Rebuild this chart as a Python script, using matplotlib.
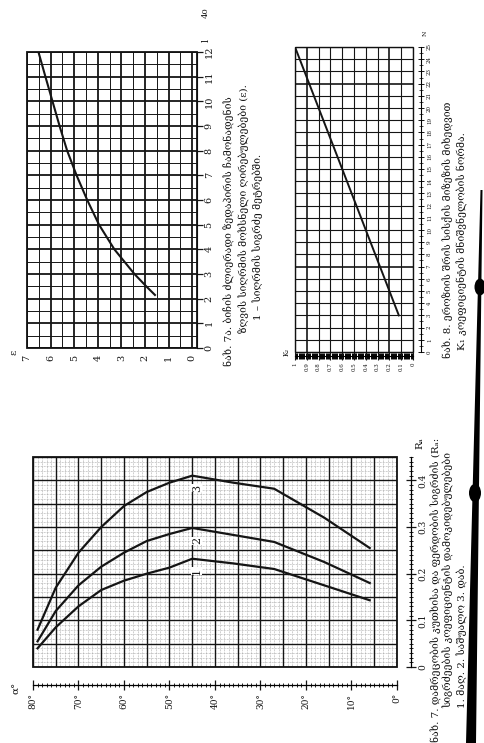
import matplotlib
matplotlib.use('Agg')
import matplotlib.pyplot as plt
from matplotlib.ticker import MultipleLocator, FixedLocator, FixedFormatter
from matplotlib.patches import Circle, Polygon, Rectangle

# ---------------- data ----------------
# Fig 7: three curves, R_a versus slope angle (degrees)
angle_deg = [79, 75, 70, 65, 60, 55, 50, 45, 36, 27, 16, 6]
r_curve1 = [0.040, 0.085, 0.130, 0.165, 0.185, 0.200, 0.213, 0.232, 0.222, 0.210, 0.175, 0.143]
r_curve2 = [0.055, 0.120, 0.175, 0.215, 0.245, 0.270, 0.285, 0.298, 0.283, 0.268, 0.225, 0.180]
r_curve3 = [0.080, 0.170, 0.245, 0.300, 0.345, 0.375, 0.395, 0.410, 0.395, 0.382, 0.320, 0.255]
curve_names = ['1', '2', '3']
angle_ticks = [80, 70, 60, 50, 40, 30, 20, 10, 0]
angle_labels = ['80°', '70°', '60°', '50°', '40°', '30°', '20°', '10°', '0°']
r_ticks = [0, 0.1, 0.2, 0.3, 0.4]
r_labels = ['0', '0.1', '0.2', '0.3', '0.4']

# Fig 7a: single curve
fig7a_l = [2.15, 2.5, 3.0, 4.0, 5.0, 6.0, 7.0, 8.0, 9.0, 10.0, 11.0, 11.95]
fig7a_e = [1.58, 1.95, 2.45, 3.30, 3.95, 4.45, 4.90, 5.30, 5.62, 5.92, 6.22, 6.50]
fig7a_l_ticks = list(range(0, 13))
fig7a_e_ticks = list(range(0, 8))

# Fig 8: straight line
fig8_n = [3, 25]
fig8_k = [0.12, 1.0]
fig8_n_ticks = list(range(0, 26))
fig8_k_ticks = [1.0, 0.9, 0.8, 0.7, 0.6, 0.5, 0.4, 0.3, 0.2, 0.1, 0.0]
fig8_k_labels = ['1', '0.9', '0.8', '0.7', '0.6', '0.5', '0.4', '0.3', '0.2', '0.1', '0']

cap7 = ['ნახ. 7. დამრეცობის კუთხისა და ფერდობის სიგრძის (Rₐ:',
        'სიგრძეების კოეფიციენტის დამოკიდებულებები',
        '1. მაღ. 2. საშუალო 3. დაბ.']
cap7a = ['ნახ. 7ა. ბიჩის ძლიერადი ზედაპირის ჩამონადენის',
         'ზღვის სიღრმის მოხსნელი ღირებულებები (ε).',
         '1 – სიღრმის სიგრძე მეტრებში.']
cap8 = ['ნახ. 8. ეროზიის შრის სისქის მიზეზის მიხედვით',
        'K₁ კოეფიციენტის მნიშვნელობის ნორმა.']

# ---------------- figure ----------------
W, H = 485, 743
plt.rcParams['font.family'] = ['DejaVu Serif', 'DejaVu Sans']
fig = plt.figure(figsize=(4.85, 7.43), dpi=100)
fig.patch.set_facecolor('white')

def add_ax(x0, y0, x1, y1):
    return fig.add_axes([x0 / W, 1 - y1 / H, (x1 - x0) / W, (y1 - y0) / H])

def ftext(x, y, s, **kw):
    kw.setdefault('color', '#111111')
    fig.text(x / W, 1 - y / H, s, **kw)

def frame(ax, lw=1.3):
    ax.add_patch(Rectangle((0, 0), 1, 1, transform=ax.transAxes, fill=False,
                           lw=lw, ec='#111111', clip_on=False, zorder=5))

INK = '#151515'

# ================= Fig 7 (bottom) =================
ax7 = add_ax(33, 457, 397, 667)
ax7.set_xlim(80, 0)
ax7.set_ylim(0, 0.45)
for a in range(0, 81):
    if a % 5 == 0:
        ax7.axvline(a, color=INK, lw=1.0, zorder=2)
    else:
        ax7.axvline(a, color='#9a9a9a', lw=0.45, ls=(0, (1.2, 1.2)), zorder=1)
for i in range(0, 46):
    r = i / 100
    if i % 5 == 0:
        ax7.axhline(r, color=INK, lw=1.0, zorder=2)
    else:
        ax7.axhline(r, color='#9a9a9a', lw=0.45, ls=(0, (1.2, 1.2)), zorder=1)
for rv in (r_curve1, r_curve2, r_curve3):
    ax7.plot(angle_deg, rv, color=INK, lw=1.6, zorder=4)
for nm, rv in zip(curve_names, (r_curve1, r_curve2, r_curve3)):
    ax7.text(44, max(rv) - 0.027, nm, rotation=90, ha='center', va='center',
             fontsize=8, color=INK, zorder=6,
             bbox=dict(fc='white', ec='none', pad=0.3))
frame(ax7)
for s in ('top', 'left'):
    ax7.spines[s].set_visible(False)
ax7.spines['bottom'].set_position(('outward', 13))
ax7.spines['right'].set_position(('outward', 10))
ax7.spines['bottom'].set_linewidth(0.9)
ax7.spines['right'].set_linewidth(0.9)
ax7.yaxis.tick_right()
ax7.xaxis.set_major_locator(FixedLocator(angle_ticks))
ax7.xaxis.set_major_formatter(FixedFormatter(angle_labels))
ax7.xaxis.set_minor_locator(MultipleLocator(1))
ax7.yaxis.set_major_locator(FixedLocator(r_ticks))
ax7.yaxis.set_major_formatter(FixedFormatter(r_labels))
ax7.yaxis.set_minor_locator(MultipleLocator(0.01))
ax7.tick_params(axis='x', which='major', direction='inout', length=7, width=0.9,
                labelsize=6.5, labelrotation=90, pad=2, colors=INK)
ax7.tick_params(axis='x', which='minor', direction='inout', length=3, width=0.6)
ax7.tick_params(axis='y', which='major', direction='inout', length=7, width=0.9,
                labelsize=6.5, labelrotation=90, pad=2, colors=INK)
ax7.tick_params(axis='y', which='minor', direction='inout', length=3, width=0.6)
for lab in ax7.get_yticklabels():
    lab.set_va('center')
ftext(420, 443, 'Rₐ', rotation=90, ha='center', va='center', fontsize=7.5)
ftext(17, 688, 'α°', rotation=90, ha='center', va='center', fontsize=7.5)

# ================= Fig 7a (top left) =================
ax7a = add_ax(27, 52, 197, 348)
ax7a.set_xlim(7, -0.2)
ax7a.set_ylim(0, 12)
for i in range(0, 15):
    e = i * 0.5
    ax7a.axvline(e, color=INK, lw=1.3 if i % 2 == 0 else 0.7, zorder=2)
for i in range(0, 25):
    l = i * 0.5
    ax7a.axhline(l, color=INK, lw=1.3 if i % 2 == 0 else 0.7, zorder=2)
ax7a.plot(fig7a_e, fig7a_l, color=INK, lw=1.5, zorder=4)
frame(ax7a)
for s in ('top', 'left', 'bottom'):
    ax7a.spines[s].set_visible(False)
ax7a.yaxis.tick_right()
ax7a.yaxis.set_major_locator(FixedLocator(fig7a_l_ticks))
ax7a.xaxis.set_major_locator(FixedLocator(fig7a_e_ticks))
ax7a.tick_params(axis='y', direction='out', length=4, width=0.9, labelsize=7,
                 labelrotation=90, pad=1.5, colors=INK)
ax7a.tick_params(axis='x', length=0, labelsize=7, labelrotation=90, pad=5, colors=INK)
for lab in ax7a.get_yticklabels():
    lab.set_va('center')
ftext(206, 40, 'l', rotation=90, ha='center', va='center', fontsize=7)
ftext(14, 352, 'ε', rotation=90, ha='center', va='center', fontsize=7.5)
ftext(206, 13, '40', rotation=90, ha='center', va='center', fontsize=6)

# ================= Fig 8 (top right) =================
ax8 = add_ax(295, 47, 413, 352)
ax8.set_xlim(1, 0)
ax8.set_ylim(0, 25)
for i in range(0, 11):
    ax8.axvline(i / 10, color=INK, lw=1.2 if i in (2, 9) else 0.8, zorder=2)
for n in range(0, 26):
    ax8.axhline(n, color=INK, lw=1.2 if n in (7, 22) else 0.8, zorder=2)
ax8.plot(fig8_k, fig8_n, color=INK, lw=1.4, zorder=4)
frame(ax8, lw=1.0)
for s in ('top', 'left'):
    ax8.spines[s].set_visible(False)
ax8.spines['bottom'].set_position(('outward', 3))
ax8.spines['right'].set_position(('outward', 6))
ax8.spines['bottom'].set_linewidth(0.8)
ax8.spines['right'].set_linewidth(0.8)
ax8.yaxis.tick_right()
ax8.xaxis.set_major_locator(FixedLocator(fig8_k_ticks))
ax8.xaxis.set_major_formatter(FixedFormatter(fig8_k_labels))
ax8.xaxis.set_minor_locator(MultipleLocator(0.01))
ax8.yaxis.set_major_locator(FixedLocator(fig8_n_ticks))
ax8.yaxis.set_minor_locator(MultipleLocator(0.5))
ax8.tick_params(axis='x', which='major', direction='inout', length=6, width=0.8,
                labelsize=4, labelrotation=90, pad=1.5, colors=INK)
ax8.tick_params(axis='x', which='minor', direction='inout', length=4, width=0.7)
ax8.tick_params(axis='y', which='major', direction='inout', length=5, width=0.7,
                labelsize=4, labelrotation=90, pad=1.5, colors=INK)
ax8.tick_params(axis='y', which='minor', direction='inout', length=3, width=0.5)
for lab in ax8.get_yticklabels():
    lab.set_va('center')
ftext(287, 352, 'K₂', rotation=90, ha='center', va='center', fontsize=5)
ftext(425, 33, 'N', rotation=90, ha='center', va='center', fontsize=4.5)

# ================= captions =================
cfs = 7.5
ftext(436, 742, cap7[0], rotation=90, ha='center', va='bottom', fontsize=cfs)
ftext(449, 708, cap7[1], rotation=90, ha='center', va='bottom', fontsize=cfs)
ftext(462, 708, cap7[2], rotation=90, ha='center', va='bottom', fontsize=cfs)

ftext(229, 366, cap7a[0], rotation=90, ha='center', va='bottom', fontsize=cfs)
ftext(244, 333, cap7a[1], rotation=90, ha='center', va='bottom', fontsize=cfs)
ftext(258, 320, cap7a[2], rotation=90, ha='center', va='bottom', fontsize=cfs)

ftext(448, 358, cap8[0], rotation=90, ha='center', va='bottom', fontsize=cfs)
ftext(462, 350, cap8[1], rotation=90, ha='center', va='bottom', fontsize=cfs)

# ================= binding shadow and punch holes =================
def fx(x):
    return x / W

def fy(y):
    return 1 - y / H

fig.add_artist(Polygon([(fx(480.5), fy(190)), (fx(482.5), fy(190)),
                        (fx(476), fy(743)), (fx(466), fy(743))],
                       closed=True, transform=fig.transFigure, fc='black', ec='none'))
for (cx, cy, rr) in [(480, 287, 5.5), (475, 493, 6)]:
    fig.add_artist(Circle((fx(cx), fy(cy)), rr / W, transform=fig.transFigure,
                          fc='black', ec='none'))

fig.savefig('out.png', dpi=100, facecolor='white')
